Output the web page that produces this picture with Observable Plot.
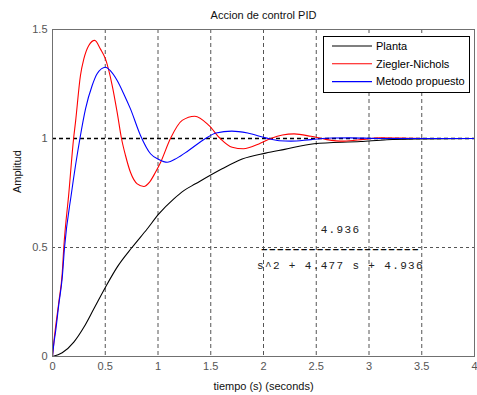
<!DOCTYPE html>
<html>
<head>
<meta charset="utf-8">
<script src="https://cdn.jsdelivr.net/npm/d3@7"></script>
<script src="https://cdn.jsdelivr.net/npm/@observablehq/plot@0.6"></script>
<style>
  html, body { margin: 0; padding: 0; background: #fff; }
</style>
</head>
<body>
<div id="chart"></div>
<script>
// ---- data ----
const seriesNames = ["Planta", "Ziegler-Nichols", "Metodo propuesto"];
const seriesColors = ["#000000", "#ff0000", "#0000ff"];

const tPlanta = [0, 0.092, 0.202, 0.297, 0.392, 0.502, 0.613, 0.755, 0.897, 1.008, 1.15, 1.245, 1.355, 1.608, 1.798, 2.02, 2.2, 2.48, 2.92, 3.17, 3.5, 4.0];
const yPlanta = [0, 0.017, 0.066, 0.134, 0.219, 0.318, 0.41, 0.501, 0.585, 0.654, 0.723, 0.761, 0.792, 0.861, 0.906, 0.933, 0.95, 0.976, 0.986, 0.994, 0.998, 1.0];

const tZN = [0, 0.013, 0.06, 0.092, 0.107, 0.155, 0.20, 0.218, 0.265, 0.297, 0.344, 0.40, 0.455, 0.502, 0.566, 0.613, 0.654, 0.692, 0.739, 0.803, 0.866, 0.92, 0.976, 1.024, 1.118, 1.229, 1.349, 1.482, 1.59, 1.703, 1.81, 1.956, 2.07, 2.18, 2.29, 2.45, 2.6, 2.76, 2.95, 3.1, 3.3, 3.6, 4.0];
const yZN = [0, 0.066, 0.25, 0.38, 0.5, 0.75, 1.0, 1.075, 1.289, 1.365, 1.427, 1.45, 1.41, 1.365, 1.243, 1.12, 1.0, 0.922, 0.845, 0.792, 0.78, 0.80, 0.845, 0.89, 1.0, 1.083, 1.102, 1.06, 1.0, 0.96, 0.953, 0.975, 1.0, 1.016, 1.021, 1.01, 0.995, 0.988, 0.996, 1.003, 1.002, 1.0, 1.0];

const tMP = [0, 0.013, 0.028, 0.06, 0.092, 0.114, 0.18, 0.26, 0.313, 0.376, 0.423, 0.502, 0.55, 0.613, 0.68, 0.739, 0.834, 0.929, 1.008, 1.087, 1.18, 1.29, 1.45, 1.55, 1.70, 1.85, 2.02, 2.15, 2.26, 2.45, 2.65, 2.82, 3.1, 4.0];
const yMP = [0, 0.06, 0.11, 0.24, 0.36, 0.5, 0.75, 1.0, 1.136, 1.243, 1.297, 1.327, 1.31, 1.266, 1.2, 1.136, 1.014, 0.93, 0.904, 0.891, 0.91, 0.945, 1.0, 1.025, 1.034, 1.025, 1.003, 0.99, 0.988, 0.995, 1.002, 1.003, 1.0, 1.0];

const xTicks = [0, 0.5, 1, 1.5, 2, 2.5, 3, 3.5, 4];
const yTicks = [0, 0.5, 1, 1.5];
const xGrid = [0.5, 1, 1.5, 2, 2.5, 3, 3.5];
const yGrid = [0.5];
const yRef = [1];

const titleText = "Accion de control PID";
const xLabel = "tiempo (s) (seconds)";
const yLabel = "Amplitud";
const tfNum = "4.936";
const tfBar = "––––––––––––––––––––";
const tfDen = "s^2 + 4.477 s + 4.936";

// ---- build table ----
const tables = [[tPlanta, yPlanta], [tZN, yZN], [tMP, yMP]];
const data = tables.flatMap(([ts, ys], i) => ts.map((t, j) => ({serie: seriesNames[i], t, v: ys[j]})));

const sans = "'Liberation Sans', Arial, Helvetica, sans-serif";
const mono = "'Liberation Mono', 'Courier New', monospace";

const plot = Plot.plot({
  width: 477,
  height: 395,
  marginLeft: 52,
  marginRight: 3,
  marginTop: 29,
  marginBottom: 39,
  style: {fontFamily: sans, fontSize: "11px", background: "#fff", color: "#000"},
  x: {domain: [0, 4]},
  y: {domain: [0, 1.5]},
  color: {domain: seriesNames, range: seriesColors},
  marks: [
    Plot.ruleX(xGrid, {stroke: "#555", strokeDasharray: "4,3", strokeWidth: 1}),
    Plot.ruleY(yGrid, {stroke: "#555", strokeDasharray: "3,3", strokeWidth: 1}),
    Plot.ruleY(yRef, {stroke: "#000", strokeDasharray: "4,3", strokeWidth: 1.3}),
    Plot.line(data, {x: "t", y: "v", z: "serie", stroke: "serie", strokeWidth: 1.1, curve: "monotone-x"}),
    Plot.frame({stroke: "#707070", strokeWidth: 1}),
    Plot.axisX(xTicks, {tickSize: 0, tickPadding: 6, fill: "#555", label: null, tickFormat: d => String(d)}),
    Plot.axisY(yTicks, {tickSize: 0, tickPadding: 5, fill: "#555", label: null, tickFormat: d => String(d)}),
    Plot.text([titleText], {frameAnchor: "top", lineAnchor: "middle", dy: -14, fontSize: 11, fill: "#111"}),
    Plot.text([xLabel], {frameAnchor: "bottom", lineAnchor: "middle", dy: 30, fontSize: 11, fill: "#111"}),
    Plot.text([yLabel], {frameAnchor: "left", dx: -35, rotate: -90, fontSize: 11, fill: "#111"}),
    Plot.text([tfNum], {x: 2.73, y: 0.583, fontFamily: mono, fontSize: 11, fill: "#222"}),
    Plot.text([tfBar], {x: 2.73, y: 0.5, dy: 0.5, fontFamily: mono, fontSize: 11, fill: "#000", stroke: "#000", strokeWidth: 0.5}),
    Plot.text([tfDen], {x: 2.73, y: 0.417, fontFamily: mono, fontSize: 11, fill: "#222"})
  ]
});

const svg = d3.select(plot);
// wide character spacing of the transfer-function annotation
svg.selectAll("text")
  .filter(function () { return [tfNum, tfBar, tfDen].includes(this.textContent); })
  .attr("letter-spacing", "1.35px");

// ---- legend (drawn inside the axes, top-right) ----
const lg = svg.append("g").attr("font-family", sans).attr("font-size", 11).attr("text-anchor", "start");
lg.append("rect").attr("x", 323.5).attr("y", 36.5).attr("width", 146).attr("height", 56)
  .attr("fill", "#fff").attr("stroke", "#000").attr("stroke-width", 1);
seriesNames.forEach((name, i) => {
  const yy = 46 + i * 17.8;
  lg.append("line").attr("x1", 332).attr("x2", 372).attr("y1", yy).attr("y2", yy)
    .attr("stroke", seriesColors[i]).attr("stroke-width", 1.1);
  lg.append("text").attr("x", 376).attr("y", yy).attr("dy", "0.35em").attr("fill", "#000").text(name);
});

document.getElementById("chart").appendChild(plot);
</script>
</body>
</html>
